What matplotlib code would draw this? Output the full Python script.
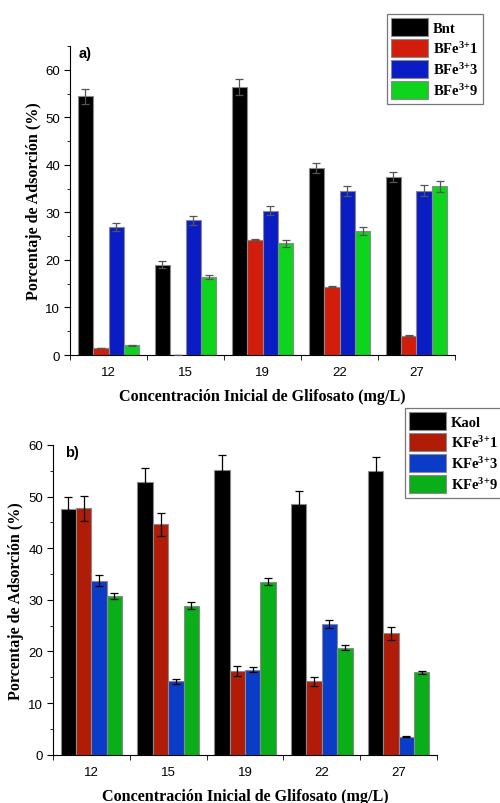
import numpy as np
import matplotlib
matplotlib.use("Agg")
import matplotlib.pyplot as plt
from matplotlib.ticker import MultipleLocator, FixedLocator

plt.rcParams["mathtext.fontset"] = "custom"
plt.rcParams["mathtext.rm"] = "Liberation Serif:bold"
plt.rcParams["mathtext.bf"] = "Liberation Serif:bold"
plt.rcParams["mathtext.default"] = "bf"

# ----- Data -----
conc = ["12", "15", "19", "22", "27"]

# panel a) bentonite
labels_a = ["Bnt", r"BFe$^{3{+}}$1", r"BFe$^{3{+}}$3", r"BFe$^{3{+}}$9"]
bnt = [54.4, 19.0, 56.3, 39.3, 37.4]
bnt_err = [1.65, 0.7, 1.7, 1.1, 1.1]
bfe1 = [1.5, 0.0, 24.3, 14.4, 4.1]
bfe1_err = [0.05, 0.0, 0.2, 0.1, 0.1]
bfe3 = [27.0, 28.3, 30.4, 34.5, 34.6]
bfe3_err = [0.85, 0.95, 0.95, 1.1, 1.1]
bfe9 = [2.1, 16.4, 23.5, 26.1, 35.5]
bfe9_err = [0.1, 0.5, 0.7, 0.75, 1.15]

# panel b) kaolinite
labels_b = ["Kaol", r"KFe$^{3{+}}$1", r"KFe$^{3{+}}$3", r"KFe$^{3{+}}$9"]
kaol = [47.6, 52.9, 55.2, 48.5, 54.9]
kaol_err = [2.4, 2.7, 2.8, 2.5, 2.8]
kfe1 = [47.7, 44.6, 16.2, 14.2, 23.5]
kfe1_err = [2.4, 2.2, 0.9, 0.8, 1.2]
kfe3 = [33.7, 14.2, 16.5, 25.3, 3.5]
kfe3_err = [1.05, 0.45, 0.45, 0.8, 0.05]
kfe9 = [30.8, 28.9, 33.5, 20.7, 16.0]
kfe9_err = [0.6, 0.65, 0.65, 0.5, 0.3]

colors_a = ["#000000", "#d21c0c", "#0a1cc4", "#0ed41e"]
colors_b = ["#000000", "#b01c08", "#0a3cc8", "#0aae18"]

serif = ["Liberation Serif", "DejaVu Serif"]
sans = ["Liberation Sans", "DejaVu Sans"]

fig = plt.figure(figsize=(5, 8.04), dpi=100)
ax_a = fig.add_axes([0.14, 0.5572, 0.77, 0.3843])
ax_b = fig.add_axes([0.106, 0.0601, 0.768, 0.3852])


def draw_panel(ax, series, errs, labels, colors, ecolor, ymax, tag, tag_x):
    x = np.arange(len(conc))
    w = 0.2
    handles = []
    for i, (vals, err) in enumerate(zip(series, errs)):
        off = (i - 1.5) * w
        b = ax.bar(x + off, vals, w, color=colors[i], edgecolor="#8a8a8a",
                   linewidth=0.8, label=labels[i], zorder=2)
        ax.errorbar(x + off, vals, yerr=err, fmt="none", ecolor=ecolor,
                    elinewidth=0.9, capsize=3, capthick=0.9, zorder=3)
        handles.append(b)
    ax.set_xlim(-0.5, len(conc) - 0.5)
    ax.set_ylim(0, ymax)
    ax.spines["top"].set_visible(False)
    ax.spines["right"].set_visible(False)
    ax.set_xticks(x)
    ax.set_xticklabels(conc, fontfamily=sans, fontsize=9.5)
    ax.xaxis.set_minor_locator(FixedLocator(np.arange(-0.5, len(conc), 1.0)))
    ax.tick_params(axis="x", which="major", length=0, pad=8)
    ax.tick_params(axis="x", which="minor", length=3.5, direction="out")
    ax.yaxis.set_major_locator(MultipleLocator(10))
    ax.yaxis.set_minor_locator(MultipleLocator(5))
    ax.tick_params(axis="y", which="major", length=4, labelsize=9.5, pad=3)
    ax.tick_params(axis="y", which="minor", length=2.5)
    for t in ax.get_yticklabels():
        t.set_fontfamily(sans)
    ax.set_xlabel("Concentración Inicial de Glifosato (mg/L)", fontfamily=serif,
                  fontweight="bold", fontsize=11.6, labelpad=7)
    ax.set_ylabel("Porcentaje de Adsorción (%)", fontfamily=serif,
                  fontweight="bold", fontsize=11.6)
    ax.text(tag_x, 1.0, tag, transform=ax.transAxes, fontfamily=sans,
            fontweight="bold", fontsize=10.5, va="top", ha="left")
    return handles


h_a = draw_panel(ax_a, [bnt, bfe1, bfe3, bfe9],
                 [bnt_err, bfe1_err, bfe3_err, bfe9_err],
                 labels_a, colors_a, "#555555", 65, "a)", 0.023)
h_b = draw_panel(ax_b, [kaol, kfe1, kfe3, kfe9],
                 [kaol_err, kfe1_err, kfe3_err, kfe9_err],
                 labels_b, colors_b, "#000000", 60, "b)", 0.031)

ax_a.yaxis.set_label_coords(-0.073, 0.5)
ax_b.yaxis.set_label_coords(-0.076, 0.5)

leg_kw = dict(prop={"family": serif, "weight": "bold", "size": 10.5},
              handlelength=2.5, handleheight=1.5, labelspacing=0.22,
              borderpad=0.3, handletextpad=0.35, fancybox=False,
              framealpha=1, edgecolor="#777777", borderaxespad=0)
leg_a = fig.legend(handles=h_a, labels=labels_a, loc="upper left",
                   bbox_to_anchor=(387 / 500, 1 - 15 / 804), **leg_kw)
leg_b = fig.legend(handles=h_b, labels=labels_b, loc="upper left",
                   bbox_to_anchor=(405 / 500, 1 - 409 / 804), **leg_kw)
for leg in (leg_a, leg_b):
    leg.get_frame().set_linewidth(0.9)

fig.savefig("out.png", dpi=100)
